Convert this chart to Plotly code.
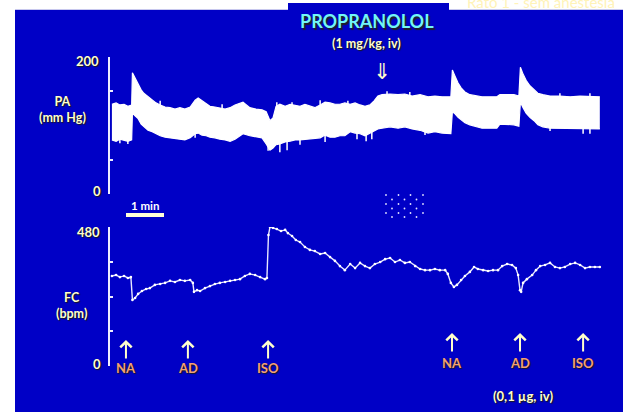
import numpy as np
import plotly.graph_objects as go

W, H = 623, 412

# ---------------- data ----------------
# Arterial pressure (PA, mm Hg): upper / lower envelope of the pulsatile trace
pa_time = [0.05, 0.16, 0.26, 0.37, 0.47, 0.57, 0.59, 0.66, 0.74, 0.82, 0.89, 1.00, 1.11, 1.21,
           1.32, 1.45, 1.58, 1.71, 1.84, 1.97, 2.11, 2.24, 2.32, 2.42, 2.53, 2.63, 2.76, 2.89,
           3.03, 3.16, 3.29, 3.50, 3.68, 3.84, 4.00, 4.11, 4.21, 4.29, 4.37, 4.47, 4.61, 4.74,
           4.87, 5.00, 5.13, 5.26, 5.39, 5.53, 5.66, 5.79, 5.92, 6.05, 6.18, 6.32, 6.45, 6.58,
           6.71, 6.84, 6.95, 7.05, 7.16, 7.37, 7.58, 7.76, 7.95, 8.16, 8.37, 8.55, 8.74, 8.97,
           9.01, 9.08, 9.16, 9.24, 9.34, 9.47, 9.63, 9.79, 10.00, 10.18, 10.26, 10.45, 10.63,
           10.76, 10.80, 10.87, 10.95, 11.05, 11.16, 11.26, 11.39, 11.58, 11.84, 12.11, 12.37,
           12.63, 12.89]
pa_sys = [131, 133, 130, 131, 128, 130, 177, 169, 161, 152, 147, 142, 137, 133,
          130, 127, 126, 124, 126, 124, 127, 137, 140, 136, 131, 128, 127, 126,
          124, 126, 130, 134, 126, 124, 123, 120, 107, 111, 128, 131, 128, 131,
          130, 128, 131, 128, 126, 130, 134, 133, 131, 131, 133, 131, 133, 130,
          128, 130, 136, 143, 145, 146, 145, 146, 143, 145, 142, 143, 142, 142,
          181, 172, 162, 155, 149, 145, 143, 142, 142, 142, 145, 145, 145,
          143, 185, 175, 166, 158, 152, 147, 145, 143, 143, 142, 143,
          143, 142]
pa_dia = [79, 77, 80, 79, 77, 79, 118, 114, 110, 102, 98, 93, 91, 88,
          85, 83, 82, 80, 80, 79, 82, 88, 89, 86, 85, 83, 82, 80,
          79, 77, 80, 88, 85, 83, 82, 73, 64, 67, 72, 73, 76, 77,
          79, 79, 80, 80, 82, 82, 86, 83, 83, 85, 85, 91, 89, 88,
          85, 89, 92, 95, 96, 98, 96, 98, 95, 93, 89, 91, 89, 88,
          120, 117, 112, 108, 104, 101, 98, 96, 96, 96, 102, 102, 101,
          99, 134, 126, 118, 112, 107, 101, 98, 96, 96, 95, 96,
          95, 95]

# isolated pulse spikes sticking out of the band
spike_time = [1.32, 2.95, 4.39, 4.79, 5.53, 6.26, 7.29, 7.89, 11.84, 12.63,
              0.26, 0.47, 2.24, 4.16, 4.47, 4.66, 5.00, 5.66, 6.50, 6.74, 6.89, 8.29,
              11.58, 12.45, 12.63]
spike_val = [136, 131, 134, 134, 137, 136, 150, 149, 147, 147,
             74, 73, 82, 63, 61, 64, 72, 76, 80, 77, 80, 86,
             92, 88, 88]

# Heart rate (FC, bpm)
fc_time = [0.05, 0.16, 0.26, 0.37, 0.47, 0.55, 0.59, 0.66, 0.74, 0.84, 0.95, 1.05, 1.18, 1.32,
           1.45, 1.58, 1.71, 1.84, 1.97, 2.11, 2.18, 2.21, 2.29, 2.37, 2.50, 2.63, 2.76, 2.89,
           3.03, 3.16, 3.29, 3.42, 3.55, 3.68, 3.82, 3.95, 4.08, 4.13, 4.17, 4.21, 4.29, 4.39,
           4.50, 4.61, 4.68, 4.79, 4.89, 5.00, 5.13, 5.26, 5.39, 5.53, 5.66, 5.79, 5.92, 6.05,
           6.18, 6.32, 6.45, 6.58, 6.71, 6.84, 6.97, 7.11, 7.24, 7.37, 7.50, 7.63, 7.76, 7.89,
           8.03, 8.16, 8.29, 8.42, 8.55, 8.68, 8.82, 8.89, 8.97, 9.05, 9.13, 9.24, 9.34, 9.47,
           9.58, 9.68, 9.82, 9.95, 10.08, 10.21, 10.32, 10.45, 10.58, 10.68, 10.74, 10.79,
           10.82, 10.87, 10.97, 11.11, 11.21, 11.32, 11.45, 11.58, 11.71, 11.84, 11.97, 12.11,
           12.24, 12.37, 12.50, 12.63, 12.76, 12.89]
fc_bpm = [311, 314, 307, 311, 304, 307, 228, 235, 249, 259, 266, 269, 280, 283,
          287, 294, 290, 297, 294, 297, 287, 256, 262, 259, 269, 276, 283, 287,
          290, 294, 297, 300, 311, 318, 314, 307, 300, 304, 452, 480, 477, 473,
          466, 470, 459, 449, 435, 428, 411, 401, 397, 387, 390, 376, 363, 345,
          331, 352, 338, 356, 345, 338, 352, 359, 369, 373, 359, 366, 356, 359,
          345, 335, 331, 331, 335, 331, 331, 318, 287, 273, 280, 297, 311, 325,
          342, 335, 331, 328, 331, 331, 345, 352, 349, 338, 314, 262,
          256, 287, 300, 314, 331, 345, 349, 356, 342, 338, 342, 352,
          356, 349, 338, 342, 342, 342]

inj_labels = ["NA", "AD", "ISO", "NA", "AD", "ISO"]
inj_time = [0.42, 2.05, 4.16, 9.00, 10.79, 12.45]

pa_ticks = [50, 150]
fc_ticks = [120, 240, 360]

# ---------------- figure ----------------
def px(x):
    return x / W

def py(y):
    return 1 - y / H

BLUE = "#0000C6"
AXC = "#EEEEFF"
YEL = "#FFFFCC"
ORG = "#F4A072"
SH = "1px 1px 1px #1a1a1a"

fig = go.Figure()

fig.add_trace(go.Scatter(x=pa_time, y=pa_dia, mode="lines", yaxis="y",
                         line=dict(color="white", width=1.2), hoverinfo="skip"))
fig.add_trace(go.Scatter(x=pa_time, y=pa_sys, mode="lines", yaxis="y", fill="tonexty",
                         fillcolor="white", line=dict(color="white", width=1.2),
                         hoverinfo="skip"))
# spikes: vertical strokes from the band centre out to each spike value
mid = np.interp(spike_time, pa_time, (np.array(pa_sys) + np.array(pa_dia)) / 2)
sx, sy = [], []
for t, v, m in zip(spike_time, spike_val, mid):
    sx += [t, t, None]
    sy += [m, v, None]
fig.add_trace(go.Scatter(x=sx, y=sy, mode="lines", yaxis="y",
                         line=dict(color="white", width=1.5), hoverinfo="skip"))

fig.add_trace(go.Scatter(x=fc_time, y=fc_bpm, mode="lines+markers", yaxis="y2",
                         line=dict(color="#E8E8FF", width=1.4),
                         marker=dict(color="white", size=2.6), hoverinfo="skip"))

shapes = [
    dict(type="rect", xref="paper", yref="paper", x0=px(15), x1=1.0, y0=0, y1=py(10),
         fillcolor=BLUE, line=dict(width=0), layer="below"),
    dict(type="rect", xref="paper", yref="paper", x0=px(288), x1=px(449), y0=py(11), y1=py(3),
         fillcolor=BLUE, line=dict(width=0), layer="below"),
    dict(type="line", xref="paper", yref="paper", x0=px(15), x1=px(288), y0=py(9.5), y1=py(9.5),
         line=dict(color="#C8C8EE", width=1), layer="below"),
    dict(type="line", xref="paper", yref="paper", x0=px(449), x1=1.0, y0=py(9.5), y1=py(9.5),
         line=dict(color="#C8C8EE", width=1), layer="below"),
    # 1 min scale bar
    dict(type="line", xref="paper", yref="paper", x0=px(126), x1=px(164), y0=py(215), y1=py(215),
         line=dict(color="#FFFFD8", width=4)),
]
# small dotted pattern
cols = [386, 392, 398.5, 404.5, 410.5, 416.5, 423]
rows = [195, 199.5, 204, 208.5, 213, 217]
for i, cx in enumerate(cols):
    for j, cy in enumerate(rows):
        if (i + j) % 2 == 0:
            shapes.append(dict(type="circle", xref="paper", yref="paper",
                               x0=px(cx - 0.9), x1=px(cx + 0.9), y0=py(cy + 0.9), y1=py(cy - 0.9),
                               fillcolor="#E0E0FF", line=dict(width=0)))

ann = []

def txt(s, x, y, size, color, xanchor="center", shadow=SH, family="Lato"):
    ann.append(dict(text=s, x=px(x), y=py(y), xref="paper", yref="paper", showarrow=False,
                    xanchor=xanchor, yanchor="middle",
                    font=dict(family=family, size=size, color=color, shadow=shadow)))

txt("<b>PROPRANOLOL</b>", 367, 21, 18, "#72F6F6", shadow="1.5px 1.5px 1px #202020")
txt("<b>(1 mg/kg, iv)</b>", 367, 44, 12.5, YEL)
txt("⇓", 382, 71, 22, YEL, shadow="none", family="DejaVu Sans")
txt("<b>PA<br>(mm Hg)</b>", 62, 109, 12.5, YEL)
txt("<b>FC<br>(bpm)</b>", 71, 305, 12.5, YEL)
txt("<b>200</b>", 101, 61, 13, YEL, xanchor="right")
txt("<b>0</b>", 103, 191, 13, YEL, xanchor="right")
txt("<b>480</b>", 102, 232, 13, YEL, xanchor="right")
txt("<b>0</b>", 103, 364, 13, YEL, xanchor="right")
txt("<b>1 min</b>", 145, 205, 11.5, "white", shadow="none")
txt("<b>(0,1 µg, iv)</b>", 523, 396, 13, YEL)
txt("Rato 1 - sem anestesia", 541, 2, 15, "#FFF3B8", shadow="none")

for k, (lab, t) in enumerate(zip(inj_labels, inj_time)):
    tip, lab_y = (340, 368) if k < 3 else (333, 363)
    ann.append(dict(text="", x=t, xref="x", y=py(tip), yref="paper", showarrow=True,
                    ax=0, ay=20, arrowhead=4, arrowsize=1.1, arrowwidth=2, arrowcolor=YEL))
    ann.append(dict(text="<b>" + lab + "</b>", x=t, xref="x", y=py(lab_y), yref="paper",
                    showarrow=False, xanchor="center", yanchor="middle",
                    font=dict(family="Lato", size=13, color=ORG, shadow=SH)))

fig.update_layout(
    width=W, height=H, autosize=False,
    margin=dict(l=0, r=0, t=0, b=0),
    paper_bgcolor="white", plot_bgcolor="rgba(0,0,0,0)",
    showlegend=False,
    xaxis=dict(domain=[px(110), 1.0], range=[0, 513 / 38], visible=False, fixedrange=True),
    yaxis=dict(domain=[py(194), py(57)], range=[0, 200], anchor="x",
               showline=True, linecolor=AXC, linewidth=2, showgrid=False, zeroline=False,
               ticks="inside", tickvals=pa_ticks, ticklen=3, tickwidth=2, tickcolor=AXC,
               showticklabels=False),
    yaxis2=dict(domain=[py(366), py(227)], range=[0, 480], anchor="x",
                showline=True, linecolor=AXC, linewidth=2, showgrid=False, zeroline=False,
                ticks="inside", tickvals=fc_ticks, ticklen=3, tickwidth=2, tickcolor=AXC,
                showticklabels=False),
    shapes=shapes,
    annotations=ann,
)

fig.write_html("out.html", config={"displayModeBar": False, "staticPlot": True},
               post_script="document.body.style.margin='0';document.body.style.overflow='hidden';")
